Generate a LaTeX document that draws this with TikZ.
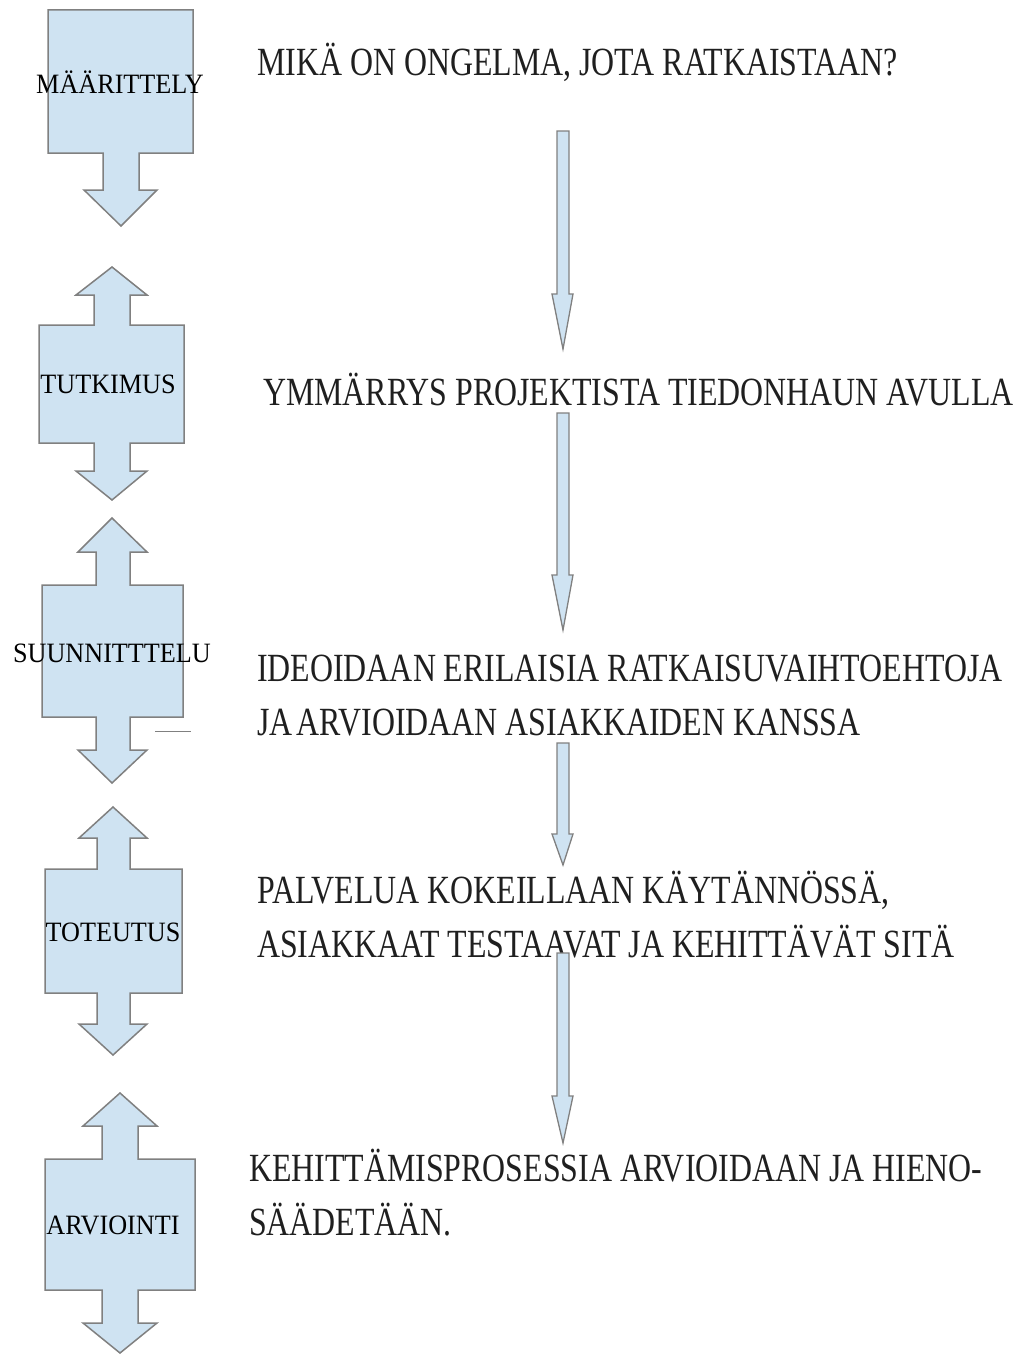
\documentclass[tikz,border=0pt]{standalone}
\usepackage{fontspec}
\setmainfont{Liberation Serif}
\newfontfamily\rfont[FakeStretch=0.797]{Liberation Serif}
\newfontfamily\lfont[FakeStretch=0.935]{Liberation Serif}
\definecolor{boxblue}{RGB}{207,227,242}
\definecolor{edgegray}{RGB}{128,128,128}
\tikzset{
  blockarrow/.style={fill=boxblue, draw=edgegray, line width=1.5pt, line join=miter},
  thinarrow/.style={fill=boxblue, draw=edgegray, line width=1.3pt, line join=miter},
  lab/.style={inner sep=0pt, font=\lfont\fontsize{28}{32}\selectfont, text=black},
  rt/.style={inner sep=0pt, font=\rfont\fontsize{40}{48}\selectfont, text=black!88},
}
\begin{document}
\begin{tikzpicture}[x=1pt,y=-1pt]
\useasboundingbox (0,0) rectangle (1018,1354);
% Block 1
\draw[blockarrow] (48,10) -- (193,10) -- (193,153) -- (139,153) -- (139,190) -- (157,190) -- (121,226) -- (84,190) -- (103,190) -- (103,153) -- (48,153) -- cycle;
% Block 2
\draw[blockarrow] (112,267) -- (147,295) -- (130,295) -- (130,325) -- (184,325) -- (184,443) -- (130,443) -- (130,471) -- (147,471) -- (112,500) -- (76,471) -- (94,471) -- (94,443) -- (39,443) -- (39,325) -- (94,325) -- (94,295) -- (76,295) -- cycle;
% Block 3
\draw[blockarrow] (112,518) -- (147,552) -- (130,552) -- (130,585) -- (183,585) -- (183,717) -- (130,717) -- (130,750) -- (147,750) -- (112,783) -- (78,750) -- (96,750) -- (96,717) -- (42,717) -- (42,585) -- (96,585) -- (96,552) -- (78,552) -- cycle;
% Block 4
\draw[blockarrow] (113,807) -- (147,838) -- (130,838) -- (130,869) -- (182,869) -- (182,993) -- (130,993) -- (130,1024) -- (147,1024) -- (113,1055) -- (79,1024) -- (97,1024) -- (97,993) -- (45,993) -- (45,869) -- (97,869) -- (97,838) -- (79,838) -- cycle;
% Block 5
\draw[blockarrow] (120,1093) -- (157,1126) -- (138,1126) -- (138,1159) -- (195,1159) -- (195,1290) -- (138,1290) -- (138,1323) -- (157,1323) -- (120,1353) -- (83,1323) -- (102,1323) -- (102,1290) -- (45,1290) -- (45,1159) -- (102,1159) -- (102,1126) -- (83,1126) -- cycle;
% small stray line
\coordinate (s1) at (155,731);
\coordinate (s2) at (191,731);
\draw[edgegray, line width=1pt] (s1) -- (s2);
% labels in blocks
\node[lab, anchor=base] (l1) at (120,93) {MÄÄRITTELY};
\node[lab, anchor=base] (l2) at (108,393) {TUTKIMUS};
\node[lab, anchor=base] (l3) at (112,662) {SUUNNITTTELU};
\node[lab, anchor=base] (l4) at (113,941) {TOTEUTUS};
\node[lab, anchor=base] (l5) at (113,1234) {ARVIOINTI};
% right texts
\node[rt, anchor=base west] (t1) at (257,75) {MIKÄ ON ONGELMA, JOTA RATKAISTAAN?};
\node[rt, anchor=base west] (t2) at (263,405) {YMMÄRRYS PROJEKTISTA TIEDONHAUN AVULLA};
\node[rt, anchor=base west] (t3) at (257,681) {IDEOIDAAN ERILAISIA RATKAISUVAIHTOEHTOJA};
\node[rt, anchor=base west] (t4) at (257,735) {JA\hspace{0.1em}ARVIOIDAAN ASIAKKAIDEN KANSSA};
\node[rt, anchor=base west] (t5) at (257,903) {PALVELUA KOKEILLAAN KÄYTÄNNÖSSÄ,};
\node[rt, anchor=base west] (t6) at (257,957) {ASIAKKAAT TESTAAVAT JA KEHITTÄVÄT SITÄ};
\node[rt, anchor=base west] (t7) at (249,1181) {KEHITTÄMISPROSESSIA ARVIOIDAAN JA HIENO-};
\node[rt, anchor=base west] (t8) at (249,1235) {SÄÄDETÄÄN.};
% thin arrows
\foreach \top/\hb/\ap in {131/294/349, 413/575/630, 743/834/865, 953/1096/1143}{
  \draw[thinarrow] (557,\top) -- (569,\top) -- (569,\hb) -- (573,\hb) -- (563,\ap) -- (552,\hb) -- (557,\hb) -- cycle;
}
\end{tikzpicture}
\end{document}
